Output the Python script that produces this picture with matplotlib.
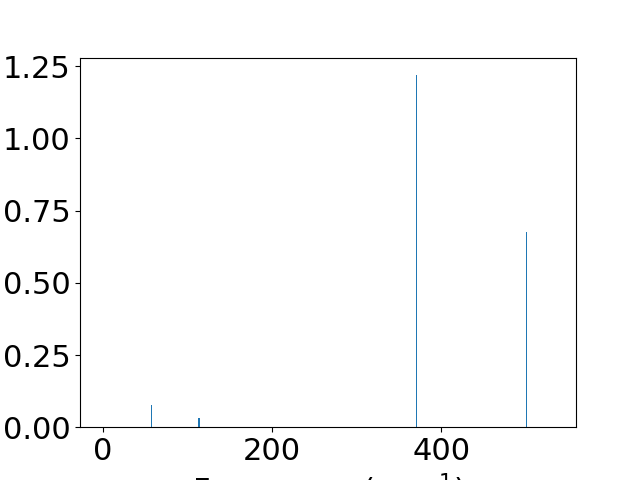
import matplotlib
matplotlib.use('Agg')
import matplotlib.pyplot as plt

# mode frequencies (cm^-1) and intensities
freqs = [0, 57, 113.5, 371, 501, 532]
intens = [0.0, 0.076, 0.031, 1.219, 0.675, 0.0]

plt.rcParams['font.size'] = 22

fig = plt.figure(figsize=(6.4, 4.8), dpi=100)
ax = fig.add_subplot(111)
ax.bar(freqs, intens, width=1.5, color='tab:blue')
ax.set_xlabel('Frequency (cm$^{-1}$)')
fig.savefig('out.png')
